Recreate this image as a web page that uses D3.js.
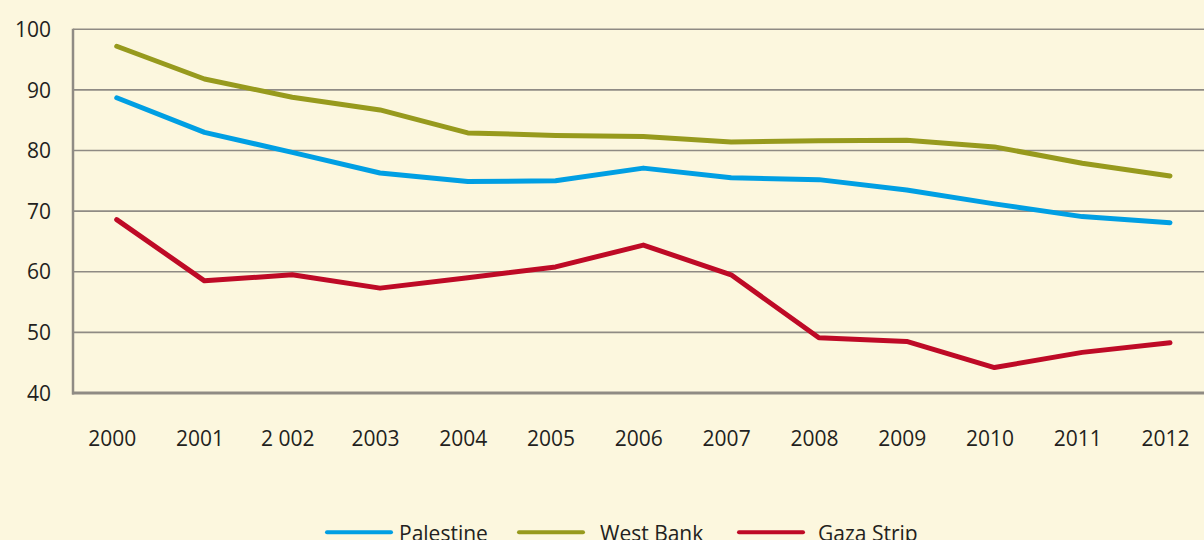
<!DOCTYPE html>
<html><head><meta charset="utf-8">
<script src="https://cdn.jsdelivr.net/npm/d3@7"></script>
<style>
html,body{margin:0;padding:0;background:#fcf7de;}
svg{display:block;}
text{font-family:"Open Sans",sans-serif;fill:#231f20;}
</style></head>
<body>
<script>
const years = ["2000","2001","2 002","2003","2004","2005","2006","2007","2008","2009","2010","2011","2012"];
const palestine = [88.7,83.0,79.7,76.3,74.9,75.0,77.1,75.5,75.2,73.5,71.2,69.1,68.1];
const westBank  = [97.2,91.8,88.8,86.7,82.9,82.5,82.3,81.4,81.6,81.7,80.6,77.9,75.8];
const gazaStrip = [68.6,58.5,59.5,57.3,59.0,60.8,64.4,59.5,49.1,48.5,44.2,46.7,48.3];
const yTicks = [40,50,60,70,80,90,100];
const seriesNames = ["Palestine","West Bank","Gaza Strip"];
const seriesColors = ["#009fe3","#979a1d","#be0a26"];

const W = 1204, H = 540;
const svg = d3.select("body").append("svg").attr("width",W).attr("height",H);
svg.append("rect").attr("width",W).attr("height",H).attr("fill","#fcf7de");

const x = d3.scalePoint().domain(years).range([116.7,1170]);
const y = d3.scaleLinear().domain([40,100]).range([393,29.3]);

// gridlines
svg.append("g").selectAll("line").data(yTicks.filter(t=>t>40)).join("line")
  .attr("x1",73).attr("x2",W).attr("y1",d=>y(d)).attr("y2",d=>y(d))
  .attr("stroke","#8f8b84").attr("stroke-width",1.6);

// y axis
const yAxis = d3.axisLeft(y).tickValues(yTicks).tickSize(0).tickPadding(0);
const ya = svg.append("g").attr("transform","translate(51,0)").call(yAxis);
ya.select(".domain").remove();
ya.selectAll("text").style("font-size","21px").style("font-family","'Open Sans',sans-serif").attr("fill","#231f20").attr("dy","0.34em");

// axis lines
svg.append("line").attr("x1",73).attr("x2",73).attr("y1",y(100)-0.5).attr("y2",y(40)+1.5)
  .attr("stroke","#8f8b84").attr("stroke-width",2.5);
svg.append("line").attr("x1",72).attr("x2",W).attr("y1",y(40)).attr("y2",y(40))
  .attr("stroke","#8f8b84").attr("stroke-width",3);

// x axis labels
const xAxis = d3.axisBottom(x).tickSize(0).tickPadding(0);
const xa = svg.append("g").attr("transform","translate(-5,431)").call(xAxis);
xa.select(".domain").remove();
xa.selectAll("text").style("font-size","21px").style("font-family","'Open Sans',sans-serif").attr("fill","#231f20").attr("dy","0.71em");

// lines
const data = [palestine, westBank, gazaStrip];
const line = d3.line().x((d,i)=>x(years[i])).y(d=>y(d));
svg.append("g").selectAll("path").data(data).join("path")
  .attr("d",line).attr("fill","none")
  .attr("stroke",(d,i)=>seriesColors[i]).attr("stroke-width",5)
  .attr("stroke-linejoin","round").attr("stroke-linecap","round");

// legend
const legendX = [325,517,737];
const legendTextX = [399,600,818];
const lg = svg.append("g");
seriesNames.forEach((n,i)=>{
  lg.append("line").attr("x1",legendX[i]+2).attr("x2",legendX[i]+66).attr("y1",532.3).attr("y2",532.3)
    .attr("stroke",seriesColors[i]).attr("stroke-width",4).attr("stroke-linecap","round");
  lg.append("text").attr("x",legendTextX[i]).attr("y",541).style("font-size","21px").text(n);
});
</script>
</body></html>
